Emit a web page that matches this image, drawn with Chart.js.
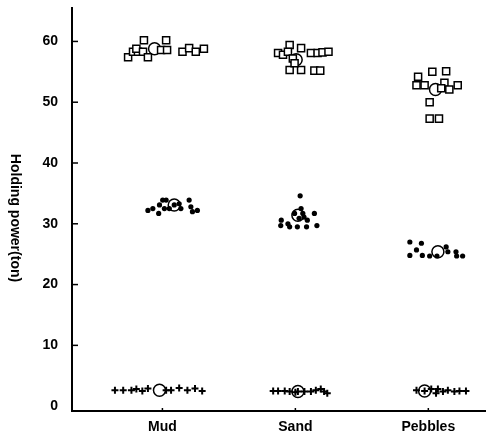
<!DOCTYPE html>
<html>
<head>
<meta charset="utf-8">
<script src="https://cdn.jsdelivr.net/npm/chart.js@4/dist/chart.umd.min.js"></script>
<style>
  body { margin: 0; background: #fff; }
  canvas { display: block; }
</style>
</head>
<body>
<canvas id="holdingChart" width="493" height="439"></canvas>
<script>
// --- data (x: 1 = Mud, 2 = Sand, 3 = Pebbles, jittered) ---
const categories = ['Mud', 'Sand', 'Pebbles'];
const yTicks = [0, 10, 20, 30, 40, 50, 60];
const yTitle = 'Holding power(ton)';

// open squares
const squaresMud = [[0.742,57.4],[0.779,58.3],[0.816,58.3],[0.804,58.8],[0.861,60.2],[0.854,58.3],[0.891,57.4],
  [0.990,58.6],[1.028,60.2],[1.035,58.6],[1.151,58.3],[1.201,58.9],[1.251,58.3],[1.312,58.8]];
const squaresSand = [[1.957,59.4],[2.043,58.9],[1.870,58.1],[1.907,57.8],[1.944,58.3],[2.117,58.1],[2.167,58.1],
  [2.204,58.2],[2.249,58.3],[1.957,55.3],[2.043,55.3],[2.143,55.2],[2.187,55.2],[1.981,57.2],[1.994,56.4]];
const squaresPebbles = [[3.030,55.0],[3.134,55.1],[2.923,54.2],[2.911,52.8],[2.972,52.8],[3.121,53.2],[3.158,52.1],
  [3.221,52.8],[3.010,50.0],[3.010,47.3],[3.080,47.3],[3.097,52.3]];

// filled dots
const dotsMud = [[0.891,32.2],[0.928,32.5],[0.978,33.1],[0.972,31.7],[1.002,33.9],[1.028,33.9],[1.015,32.5],
  [1.052,32.5],[1.126,33.3],[1.139,32.5],[1.201,33.9],[1.214,32.8],[1.226,32.0],[1.263,32.2],[1.089,33.1]];
const dotsSand = [[2.036,34.6],[2.043,32.5],[1.994,31.7],[1.894,30.6],[1.890,29.7],[1.944,30.0],[1.957,29.5],
  [2.028,30.9],[2.015,29.5],[2.065,31.1],[2.090,30.6],[2.084,29.5],[2.143,31.7],[2.162,29.7],[2.056,31.7]];
const dotsPebbles = [[2.861,27.0],[2.948,26.8],[2.861,24.8],[2.911,25.7],[2.955,24.8],[3.010,24.7],[3.134,26.2],
  [3.147,25.4],[3.208,25.4],[3.213,24.7],[3.258,24.7],[3.065,24.7]];

// crosses
const crossesMud = [[0.643,2.6],[0.705,2.6],[0.767,2.6],[0.804,2.8],[0.849,2.5],[0.891,2.9],[1.028,2.6],
  [1.065,2.6],[1.126,3.0],[1.188,2.6],[1.245,2.9],[1.299,2.5]];
const crossesSand = [[1.833,2.5],[1.870,2.5],[1.920,2.5],[1.957,2.4],[2.068,2.4],[2.117,2.4],[2.154,2.6],
  [2.191,2.8],[2.216,2.4],[2.240,2.1],[2.019,2.4],[2.000,2.3]];
const crossesPebbles = [[2.911,2.6],[2.972,2.5],[3.022,2.8],[3.072,2.8],[3.110,2.4],[3.147,2.6],[3.196,2.4],
  [3.234,2.5],[3.283,2.5],[3.058,2.1]];

// circled means
const means = [[0.941,58.8],[2.006,57.0],[3.054,52.1],[1.089,33.1],[2.019,31.4],[3.072,25.4],
  [0.978,2.6],[2.019,2.4],[2.972,2.5]];

function toPoints(pairs) {
  return pairs.map(p => ({ x: p[0], y: p[1] }));
}

function squareSet(pairs) {
  return { data: toPoints(pairs), pointStyle: 'rect', pointRadius: 5, borderWidth: 1.5,
    borderColor: '#000', backgroundColor: '#fff' };
}
function dotSet(pairs) {
  return { data: toPoints(pairs), pointStyle: 'circle', pointRadius: 2.6, borderWidth: 0,
    borderColor: '#000', backgroundColor: '#000' };
}
function crossSet(pairs) {
  return { data: toPoints(pairs), pointStyle: 'cross', pointRadius: 3.5, borderWidth: 2,
    borderColor: '#000', backgroundColor: '#000' };
}

const FONT = '"Liberation Sans", Arial, sans-serif';

// inward tick marks + rotated axis title
const decorations = {
  id: 'decorations',
  afterDraw(chart) {
    const { ctx, chartArea, scales } = chart;
    ctx.save();
    ctx.strokeStyle = '#000';
    ctx.lineWidth = 1.5;
    yTicks.forEach(v => {
      if (v === 0) return;
      const py = scales.y.getPixelForValue(v);
      ctx.beginPath();
      ctx.moveTo(chartArea.left, py);
      ctx.lineTo(chartArea.left + 6, py);
      ctx.stroke();
    });
    categories.forEach((c, i) => {
      const px = scales.x.getPixelForValue(i + 1);
      ctx.beginPath();
      ctx.moveTo(px, chartArea.bottom);
      ctx.lineTo(px, chartArea.bottom - 3);
      ctx.stroke();
    });
    ctx.translate(15, 218);
    ctx.rotate(Math.PI / 2);
    ctx.font = 'bold 14px ' + FONT;
    ctx.fillStyle = '#000';
    ctx.textAlign = 'center';
    ctx.textBaseline = 'middle';
    ctx.fillText(yTitle, 0, 0);
    ctx.restore();
  }
};

new Chart(document.getElementById('holdingChart'), {
  type: 'scatter',
  data: {
    datasets: [
      squareSet(squaresMud), squareSet(squaresSand), squareSet(squaresPebbles),
      dotSet(dotsMud), dotSet(dotsSand), dotSet(dotsPebbles),
      crossSet(crossesMud), crossSet(crossesSand), crossSet(crossesPebbles),
      { data: toPoints(means), pointStyle: 'circle', pointRadius: 6, borderWidth: 1.5,
        borderColor: '#000', backgroundColor: 'rgba(0,0,0,0)' }
    ]
  },
  options: {
    responsive: false,
    animation: false,
    layout: { padding: { top: 8, right: 3, left: 0, bottom: 0 } },
    plugins: { legend: { display: false }, tooltip: { enabled: false } },
    scales: {
      x: {
        type: 'linear',
        min: 0.32,
        max: 3.43,
        afterFit(scale) {
          scale.height = 28;
          scale.paddingLeft = 0;
          scale.paddingRight = 0;
        },
        afterBuildTicks(scale) { scale.ticks = categories.map((c, i) => ({ value: i + 1 })); },
        grid: { display: false, drawTicks: false },
        border: { display: true, color: '#000', width: 2 },
        ticks: {
          padding: 8,
          color: '#000',
          font: { family: FONT, size: 14, weight: 'bold' },
          callback: v => categories[v - 1]
        }
      },
      y: {
        min: -0.8,
        max: 65.5,
        afterFit(scale) {
          scale.width = 72;
          scale.paddingTop = 0;
          scale.paddingBottom = 0;
        },
        afterBuildTicks(scale) { scale.ticks = yTicks.map(v => ({ value: v })); },
        grid: { display: false, drawTicks: false },
        border: { display: true, color: '#000', width: 2 },
        ticks: {
          padding: 14,
          color: '#000',
          font: { family: FONT, size: 14, weight: 'bold' }
        }
      }
    }
  },
  plugins: [decorations]
});
</script>
</body>
</html>
